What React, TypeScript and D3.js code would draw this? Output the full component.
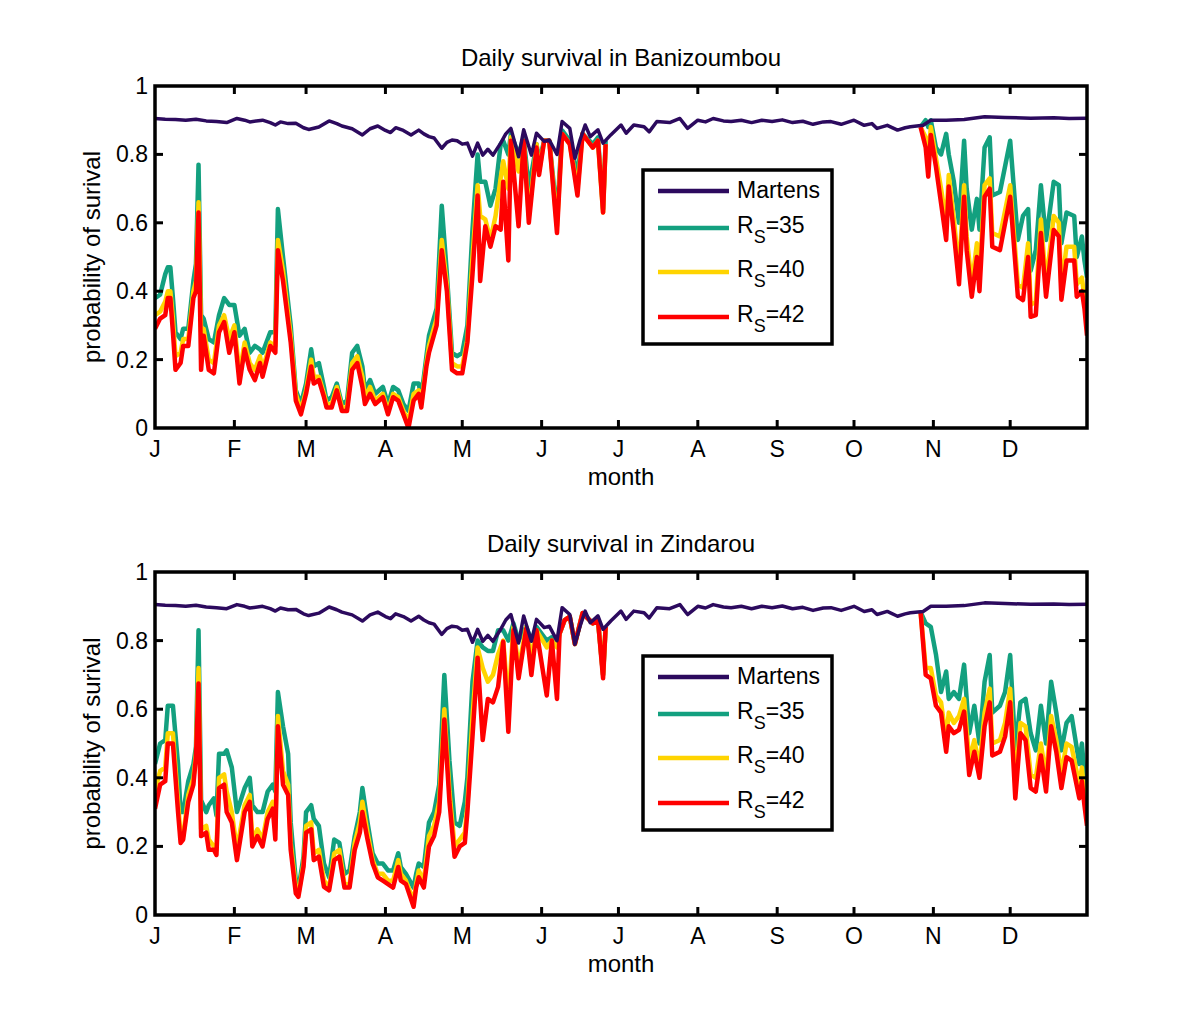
import React from 'react';
import * as d3 from 'd3';

// ---------- axis / label data ----------
const MONTH_LABELS = ['J', 'F', 'M', 'A', 'M', 'J', 'J', 'A', 'S', 'O', 'N', 'D'];
const MONTH_START_DAYS = [1, 32, 60, 91, 121, 152, 182, 213, 244, 274, 305, 335];
const Y_TICK_VALUES = [0, 0.2, 0.4, 0.6, 0.8, 1];
const Y_TICK_LABELS = ['0', '0.2', '0.4', '0.6', '0.8', '1'];
const SERIES_LABELS = ['Martens', '35', '40', '42'];
const PANEL_TITLES = ['Daily survival in Banizoumbou', 'Daily survival in Zindarou'];

// ---------- Martens (shared by both sites) ----------
const MARTENS_DAYS = [1, 5, 9, 13, 17, 21, 25, 29, 33, 36, 38, 43, 46, 48, 50, 53, 56, 59, 61, 65, 69, 72, 74, 78, 82, 85, 88, 91, 93, 95, 98, 101, 104, 106, 108, 110, 113, 115, 117, 119, 121, 123, 125, 127, 129, 131, 133, 136, 138, 140, 143, 145, 148, 150, 153, 155, 158, 160, 163, 165, 167, 169, 171, 174, 176, 179, 183, 185, 188, 192, 194, 197, 202, 206, 209, 213, 216, 219, 223, 226, 230, 234, 238, 242, 246, 250, 254, 258, 262, 265, 269, 274, 278, 281, 283, 287, 291, 294, 296, 301, 304, 310, 317, 325, 333, 343, 352, 358, 365];
const MARTENS_VALUES = [0.905, 0.903, 0.902, 0.9, 0.903, 0.898, 0.896, 0.893, 0.905, 0.9, 0.895, 0.9, 0.893, 0.886, 0.895, 0.89, 0.891, 0.878, 0.873, 0.88, 0.898, 0.89, 0.883, 0.875, 0.857, 0.875, 0.883, 0.87, 0.864, 0.878, 0.87, 0.857, 0.871, 0.86, 0.852, 0.848, 0.818, 0.835, 0.842, 0.84, 0.83, 0.833, 0.795, 0.833, 0.798, 0.815, 0.798, 0.833, 0.86, 0.876, 0.793, 0.872, 0.798, 0.862, 0.838, 0.842, 0.8, 0.896, 0.876, 0.789, 0.842, 0.886, 0.852, 0.872, 0.833, 0.857, 0.886, 0.862, 0.886, 0.881, 0.866, 0.896, 0.893, 0.905, 0.876, 0.9, 0.895, 0.905, 0.898, 0.896, 0.9, 0.893, 0.9, 0.896, 0.901, 0.893, 0.897, 0.888, 0.895, 0.896, 0.888, 0.9, 0.885, 0.89, 0.876, 0.885, 0.871, 0.878, 0.881, 0.885, 0.9, 0.9, 0.902, 0.91, 0.908, 0.906, 0.907, 0.905, 0.906];

// ---------- Banizoumbou ----------
const BAN_EARLY_DAYS = [1, 3, 5, 6, 7, 8, 9, 11, 12, 14, 16, 17, 18, 19, 20, 22, 24, 26, 28, 30, 32, 34, 36, 38, 40, 42, 43, 46, 48, 49, 51, 54, 56, 58, 60, 62, 63, 65, 67, 68, 70, 72, 74, 76, 78, 80, 82, 83, 85, 87, 90, 92, 94, 96, 98, 100, 102, 104, 105, 107, 108, 111, 113, 115, 117, 119, 121, 123, 125, 127, 128, 130, 132, 134, 136, 137, 139, 140, 143, 145, 147, 150, 151, 153, 155, 158, 160, 163, 166, 168, 172, 174, 176, 177];
const BAN_EARLY_RS35 = [0.38, 0.39, 0.45, 0.47, 0.47, 0.38, 0.28, 0.26, 0.29, 0.29, 0.43, 0.48, 0.77, 0.33, 0.32, 0.26, 0.25, 0.33, 0.38, 0.36, 0.36, 0.27, 0.29, 0.22, 0.24, 0.23, 0.22, 0.28, 0.28, 0.64, 0.5, 0.3, 0.11, 0.07, 0.13, 0.23, 0.18, 0.19, 0.12, 0.08, 0.09, 0.13, 0.07, 0.08, 0.22, 0.24, 0.18, 0.11, 0.14, 0.1, 0.12, 0.07, 0.12, 0.11, 0.07, 0.05, 0.13, 0.13, 0.09, 0.21, 0.27, 0.35, 0.65, 0.45, 0.22, 0.21, 0.22, 0.3, 0.58, 0.8, 0.72, 0.72, 0.65, 0.7, 0.83, 0.84, 0.8, 0.86, 0.8, 0.85, 0.7, 0.83, 0.78, 0.84, 0.84, 0.62, 0.87, 0.84, 0.74, 0.86, 0.83, 0.85, 0.64, 0.84];
const BAN_EARLY_RS40 = [0.33, 0.34, 0.37, 0.4, 0.4, 0.32, 0.21, 0.22, 0.26, 0.26, 0.4, 0.43, 0.66, 0.28, 0.29, 0.2, 0.19, 0.3, 0.33, 0.26, 0.3, 0.16, 0.25, 0.19, 0.17, 0.21, 0.17, 0.25, 0.24, 0.55, 0.46, 0.27, 0.1, 0.05, 0.11, 0.2, 0.15, 0.15, 0.1, 0.07, 0.07, 0.12, 0.06, 0.06, 0.19, 0.21, 0.15, 0.09, 0.12, 0.08, 0.1, 0.05, 0.1, 0.09, 0.05, 0.02, 0.1, 0.11, 0.07, 0.19, 0.24, 0.32, 0.55, 0.42, 0.19, 0.18, 0.18, 0.26, 0.5, 0.71, 0.62, 0.61, 0.55, 0.62, 0.73, 0.78, 0.7, 0.85, 0.75, 0.84, 0.62, 0.83, 0.75, 0.84, 0.84, 0.59, 0.86, 0.83, 0.7, 0.86, 0.82, 0.84, 0.63, 0.83];
const BAN_EARLY_RS42 = [0.29, 0.32, 0.33, 0.38, 0.38, 0.28, 0.17, 0.19, 0.24, 0.24, 0.38, 0.4, 0.63, 0.17, 0.27, 0.17, 0.16, 0.28, 0.31, 0.22, 0.28, 0.13, 0.23, 0.17, 0.14, 0.19, 0.15, 0.24, 0.22, 0.52, 0.43, 0.25, 0.08, 0.04, 0.1, 0.18, 0.13, 0.14, 0.09, 0.06, 0.06, 0.11, 0.05, 0.05, 0.17, 0.19, 0.12, 0.07, 0.1, 0.07, 0.09, 0.04, 0.09, 0.08, 0.04, 0.0, 0.08, 0.1, 0.06, 0.18, 0.22, 0.3, 0.52, 0.4, 0.17, 0.16, 0.16, 0.25, 0.45, 0.68, 0.43, 0.59, 0.53, 0.59, 0.58, 0.72, 0.49, 0.84, 0.59, 0.84, 0.6, 0.82, 0.74, 0.84, 0.84, 0.57, 0.86, 0.83, 0.68, 0.86, 0.82, 0.84, 0.63, 0.83];

const BAN_LATE_DAYS = [300, 302, 303, 304, 306, 308, 310, 311, 313, 315, 317, 318, 320, 322, 323, 325, 327, 328, 331, 335, 338, 340, 342, 343, 345, 347, 349, 352, 354, 355, 357, 360, 361, 363, 364, 365];
const BAN_LATE_RS35 = [0.88, 0.9, 0.88, 0.9, 0.82, 0.8, 0.86, 0.8, 0.72, 0.6, 0.84, 0.7, 0.58, 0.67, 0.58, 0.82, 0.85, 0.68, 0.69, 0.84, 0.55, 0.62, 0.64, 0.46, 0.52, 0.71, 0.55, 0.72, 0.71, 0.54, 0.63, 0.62, 0.5, 0.56, 0.49, 0.44];
const BAN_LATE_RS40 = [0.88, 0.85, 0.78, 0.88, 0.79, 0.7, 0.6, 0.74, 0.61, 0.46, 0.71, 0.56, 0.42, 0.54, 0.44, 0.71, 0.73, 0.57, 0.56, 0.71, 0.42, 0.41, 0.54, 0.36, 0.37, 0.61, 0.42, 0.62, 0.6, 0.41, 0.53, 0.53, 0.42, 0.44, 0.38, 0.33];
const BAN_LATE_RS42 = [0.88, 0.82, 0.735, 0.857, 0.764, 0.657, 0.55, 0.706, 0.57, 0.42, 0.676, 0.52, 0.384, 0.5, 0.4, 0.676, 0.7, 0.53, 0.52, 0.676, 0.384, 0.374, 0.5, 0.325, 0.33, 0.57, 0.384, 0.579, 0.56, 0.375, 0.49, 0.49, 0.384, 0.4, 0.35, 0.27];

// ---------- Zindarou ----------
const ZIN_EARLY_DAYS = [1, 3, 5, 6, 8, 10, 11, 12, 14, 16, 17, 18, 19, 21, 22, 24, 25, 26, 28, 29, 31, 33, 36, 38, 39, 41, 43, 45, 47, 48, 49, 51, 53, 54, 56, 57, 59, 60, 62, 63, 65, 67, 69, 71, 73, 75, 77, 79, 81, 82, 84, 86, 88, 90, 92, 94, 96, 97, 99, 102, 103, 104, 106, 108, 110, 112, 114, 116, 118, 120, 122, 123, 125, 127, 129, 131, 133, 135, 137, 139, 141, 143, 146, 148, 150, 154, 156, 158, 159, 161, 163, 165, 168, 172, 174, 176, 177];
const ZIN_EARLY_RS35 = [0.44, 0.5, 0.51, 0.61, 0.61, 0.44, 0.3, 0.3, 0.39, 0.44, 0.49, 0.83, 0.335, 0.3, 0.32, 0.34, 0.29, 0.47, 0.47, 0.48, 0.43, 0.3, 0.37, 0.4, 0.32, 0.3, 0.3, 0.36, 0.38, 0.36, 0.65, 0.55, 0.47, 0.27, 0.1, 0.075, 0.17, 0.3, 0.32, 0.28, 0.26, 0.15, 0.11, 0.22, 0.21, 0.12, 0.13, 0.23, 0.3, 0.37, 0.27, 0.18, 0.15, 0.15, 0.13, 0.13, 0.18, 0.14, 0.12, 0.08, 0.12, 0.15, 0.14, 0.27, 0.3, 0.38, 0.7, 0.45, 0.27, 0.26, 0.33, 0.4, 0.68, 0.8, 0.78, 0.77, 0.77, 0.83, 0.83, 0.8, 0.85, 0.8, 0.84, 0.8, 0.84, 0.8, 0.81, 0.8, 0.82, 0.86, 0.87, 0.79, 0.88, 0.85, 0.86, 0.7, 0.84];
const ZIN_EARLY_RS40 = [0.36, 0.42, 0.43, 0.53, 0.53, 0.33, 0.23, 0.23, 0.35, 0.4, 0.47, 0.72, 0.25, 0.26, 0.22, 0.2, 0.19, 0.4, 0.41, 0.36, 0.3, 0.19, 0.32, 0.35, 0.22, 0.25, 0.22, 0.3, 0.33, 0.25, 0.58, 0.42, 0.38, 0.21, 0.08, 0.06, 0.15, 0.26, 0.27, 0.18, 0.19, 0.1, 0.08, 0.18, 0.19, 0.09, 0.09, 0.21, 0.27, 0.33, 0.24, 0.16, 0.12, 0.12, 0.1, 0.1, 0.16, 0.12, 0.1, 0.04, 0.09, 0.13, 0.1, 0.23, 0.26, 0.33, 0.6, 0.36, 0.2, 0.22, 0.24, 0.32, 0.58, 0.78, 0.72, 0.68, 0.7, 0.76, 0.8, 0.62, 0.84, 0.72, 0.84, 0.75, 0.83, 0.78, 0.8, 0.78, 0.82, 0.86, 0.87, 0.79, 0.88, 0.85, 0.86, 0.7, 0.84];
const ZIN_EARLY_RS42 = [0.31, 0.38, 0.39, 0.5, 0.5, 0.3, 0.21, 0.22, 0.33, 0.38, 0.46, 0.675, 0.23, 0.24, 0.19, 0.19, 0.175, 0.37, 0.38, 0.3, 0.27, 0.16, 0.3, 0.33, 0.2, 0.23, 0.2, 0.28, 0.31, 0.22, 0.55, 0.38, 0.35, 0.19, 0.063, 0.053, 0.14, 0.24, 0.25, 0.16, 0.17, 0.082, 0.072, 0.16, 0.17, 0.08, 0.08, 0.19, 0.24, 0.3, 0.22, 0.15, 0.11, 0.1, 0.09, 0.08, 0.14, 0.1, 0.09, 0.024, 0.08, 0.11, 0.08, 0.2, 0.23, 0.3, 0.57, 0.33, 0.17, 0.2, 0.21, 0.3, 0.52, 0.75, 0.51, 0.63, 0.62, 0.665, 0.797, 0.534, 0.83, 0.69, 0.835, 0.7, 0.83, 0.64, 0.8, 0.63, 0.82, 0.86, 0.87, 0.79, 0.88, 0.85, 0.86, 0.69, 0.84];

const ZIN_LATE_DAYS = [300, 302, 304, 306, 308, 310, 311, 313, 315, 317, 319, 321, 323, 325, 327, 328, 331, 333, 335, 337, 339, 341, 343, 345, 347, 349, 351, 353, 355, 357, 359, 362, 363, 364, 365];
const ZIN_LATE_RS35 = [0.884, 0.85, 0.84, 0.76, 0.65, 0.71, 0.63, 0.65, 0.63, 0.73, 0.53, 0.61, 0.5, 0.68, 0.758, 0.59, 0.61, 0.65, 0.758, 0.48, 0.62, 0.63, 0.53, 0.48, 0.61, 0.5, 0.68, 0.59, 0.48, 0.56, 0.58, 0.44, 0.5, 0.41, 0.36];
const ZIN_LATE_RS40 = [0.884, 0.72, 0.72, 0.64, 0.62, 0.51, 0.59, 0.56, 0.58, 0.63, 0.45, 0.51, 0.43, 0.59, 0.66, 0.5, 0.51, 0.56, 0.66, 0.38, 0.56, 0.55, 0.41, 0.4, 0.5, 0.4, 0.58, 0.51, 0.41, 0.5, 0.49, 0.38, 0.43, 0.35, 0.3];
const ZIN_LATE_RS42 = [0.884, 0.7, 0.69, 0.61, 0.59, 0.476, 0.55, 0.53, 0.54, 0.593, 0.408, 0.476, 0.4, 0.55, 0.62, 0.465, 0.476, 0.52, 0.62, 0.34, 0.53, 0.51, 0.37, 0.36, 0.465, 0.36, 0.55, 0.476, 0.37, 0.46, 0.45, 0.34, 0.39, 0.32, 0.26];

// ---------- styling ----------
const COLORS = ['#2c0a5e', '#13a07f', '#ffd400', '#ff0000'];
const FONT = '"Liberation Sans", Arial, Helvetica, sans-serif';

type Seg = { days: number[]; rs: number[][] };

const PANELS: { top: number; bottom: number; title: string; segs: Seg[] }[] = [
  {
    top: 86, bottom: 428, title: PANEL_TITLES[0],
    segs: [
      { days: BAN_EARLY_DAYS, rs: [BAN_EARLY_RS35, BAN_EARLY_RS40, BAN_EARLY_RS42] },
      { days: BAN_LATE_DAYS, rs: [BAN_LATE_RS35, BAN_LATE_RS40, BAN_LATE_RS42] },
    ],
  },
  {
    top: 572, bottom: 915, title: PANEL_TITLES[1],
    segs: [
      { days: ZIN_EARLY_DAYS, rs: [ZIN_EARLY_RS35, ZIN_EARLY_RS40, ZIN_EARLY_RS42] },
      { days: ZIN_LATE_DAYS, rs: [ZIN_LATE_RS35, ZIN_LATE_RS40, ZIN_LATE_RS42] },
    ],
  },
];

const LEFT = 155;
const RIGHT = 1087;

function Panel({ top, bottom, title, segs, idx }: { top: number; bottom: number; title: string; segs: Seg[]; idx: number }) {
  const x = d3.scaleLinear().domain([1, 365]).range([LEFT, RIGHT]);
  const y = d3.scaleLinear().domain([0, 1]).range([bottom, top]);
  const line = d3.line<[number, number]>().x((d) => x(d[0])).y((d) => y(d[1]));
  const mk = (days: number[], vals: number[]) => line(days.map((d, i) => [d, vals[i]] as [number, number])) || '';
  const clipId = `clip${idx}`;
  const cx = (LEFT + RIGHT) / 2;
  const legTop = top + 84;
  const legLeft = 643;
  const entryY = [21, 58, 102, 147].map((o) => legTop + o);
  const tickLen = 8;

  return (
    <g>
      <defs>
        <clipPath id={clipId}>
          <rect x={LEFT} y={top - 2} width={RIGHT - LEFT} height={bottom - top + 2} />
        </clipPath>
      </defs>
      <text x={cx} y={top - 20} textAnchor="middle" fontSize={24} fontFamily={FONT} fill="#000">{title}</text>

      <g clipPath={`url(#${clipId})`} fill="none" strokeLinejoin="round">
        {[0, 1, 2].map((k) =>
          segs.map((s, j) => (
            <path key={`${k}-${j}`} d={mk(s.days, s.rs[k])} stroke={COLORS[k + 1]} strokeWidth={4.5} />
          ))
        )}
        <path d={mk(MARTENS_DAYS, MARTENS_VALUES)} stroke={COLORS[0]} strokeWidth={3.5} />
      </g>

      {/* ticks */}
      <g stroke="#000" strokeWidth={3}>
        {MONTH_START_DAYS.slice(1).map((d) => (
          <g key={d}>
            <line x1={x(d)} x2={x(d)} y1={bottom} y2={bottom - tickLen} />
            <line x1={x(d)} x2={x(d)} y1={top} y2={top + tickLen} />
          </g>
        ))}
        {Y_TICK_VALUES.slice(1, -1).map((v) => (
          <g key={v}>
            <line x1={LEFT} x2={LEFT + tickLen} y1={y(v)} y2={y(v)} />
            <line x1={RIGHT} x2={RIGHT - tickLen} y1={y(v)} y2={y(v)} />
          </g>
        ))}
      </g>
      <rect x={LEFT} y={top} width={RIGHT - LEFT} height={bottom - top} fill="none" stroke="#000" strokeWidth={3.5} />

      {/* tick labels */}
      <g fontFamily={FONT} fontSize={23} fill="#000">
        {Y_TICK_VALUES.map((v, i) => (
          <text key={v} x={148} y={y(v) + 8} textAnchor="end">{Y_TICK_LABELS[i]}</text>
        ))}
        {MONTH_START_DAYS.map((d, i) => (
          <text key={d} x={x(d)} y={bottom + 29} textAnchor="middle">{MONTH_LABELS[i]}</text>
        ))}
        <text x={cx} y={bottom + 57} textAnchor="middle" fontSize={24}>month</text>
        <text transform={`translate(100,${(top + bottom) / 2}) rotate(-90)`} textAnchor="middle" fontSize={24}>probability of surival</text>
      </g>

      {/* legend */}
      <rect x={legLeft} y={legTop} width={189} height={174} fill="#fff" stroke="#000" strokeWidth={3.5} />
      {SERIES_LABELS.map((lab, i) => (
        <g key={lab}>
          <line x1={658} x2={729} y1={entryY[i]} y2={entryY[i]} stroke={COLORS[i]} strokeWidth={4.5} />
          {i === 0 ? (
            <text x={737} y={entryY[i] + 7} fontFamily={FONT} fontSize={23} fill="#000">{lab}</text>
          ) : (
            <text x={737} y={entryY[i] + 5} fontFamily={FONT} fontSize={23} fill="#000">
              R<tspan fontSize={18} dy={10}>S</tspan><tspan dy={-10}>={lab}</tspan>
            </text>
          )}
        </g>
      ))}
    </g>
  );
}

export default function App() {
  return (
    <svg width={1200} height={1029} style={{ position: 'absolute', left: 0, top: 0, display: 'block', background: '#fff' }}>
      <rect width={1200} height={1029} fill="#fff" />
      {PANELS.map((p, i) => (
        <Panel key={i} idx={i} top={p.top} bottom={p.bottom} title={p.title} segs={p.segs} />
      ))}
    </svg>
  );
}
